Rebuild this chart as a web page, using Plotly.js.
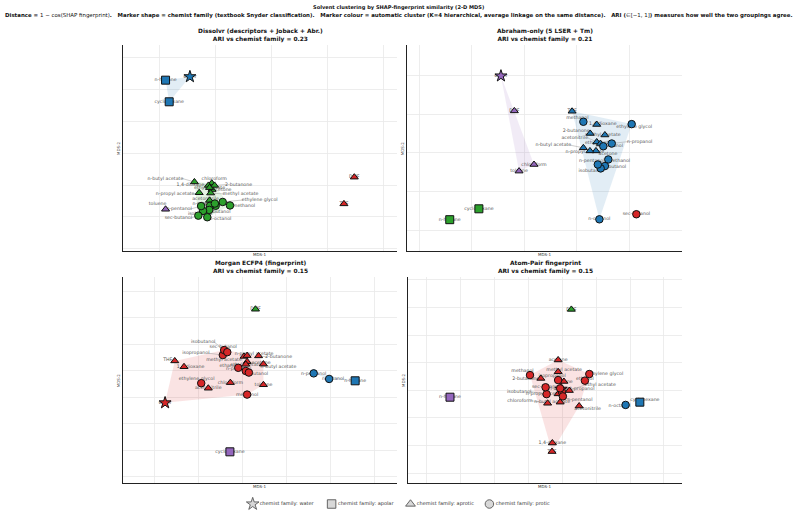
<!DOCTYPE html>
<html>
<head>
<meta charset="utf-8">
<script src="https://cdn.plot.ly/plotly-3.0.1.min.js"></script>
<style>html,body{margin:0;padding:0;background:#fff}</style>
</head>
<body>
<div id="chart" style="width:797px;height:514px"></div>
<script>
// Solvents and their textbook (Snyder) family
const solvents = ['water','n-hexane','cyclohexane','toluene','chloroform','1,4-dioxane','THF','DMF',
  'acetone','2-butanone','acetonitrile','methyl acetate','ethyl acetate','n-propyl acetate','n-butyl acetate',
  'methanol','ethanol','n-propanol','isopropanol','n-butanol','isobutanol','sec-butanol','n-pentanol','n-octanol','ethylene glycol'];
const family = ['water','apolar','apolar','aprotic','aprotic','aprotic','aprotic','aprotic',
  'aprotic','aprotic','aprotic','aprotic','aprotic','aprotic','aprotic',
  'protic','protic','protic','protic','protic','protic','protic','protic','protic','protic'];

// 2-D MDS coordinates and K=4 cluster labels, one set per fingerprint
const dissolvrX = [-0.292,-0.379,-0.366,-0.379,-0.214,-0.226,0.258,0.295,-0.213,-0.204,-0.222,-0.218,-0.222,-0.259,-0.276,-0.149,-0.200,-0.220,-0.203,-0.223,-0.245,-0.262,-0.252,-0.230,-0.175];
const dissolvrY = [0.241,0.230,0.162,-0.176,-0.094,-0.101,-0.159,-0.075,-0.114,-0.101,-0.148,-0.125,-0.108,-0.124,-0.090,-0.164,-0.165,-0.165,-0.158,-0.178,-0.181,-0.196,-0.166,-0.201,-0.153];
const dissolvrCluster = [1,1,1,4,2,2,3,3,2,2,2,2,2,2,2,2,2,2,2,2,2,2,2,2,2];

const abrahamX = [-0.089,-0.284,-0.173,-0.020,0.037,0.276,0.182,-0.038,0.273,0.251,0.276,0.307,0.290,0.250,0.225,0.225,0.320,0.333,0.301,0.307,0.291,0.427,0.280,0.286,0.409];
const abrahamY = [0.198,-0.172,-0.144,-0.047,-0.030,0.073,0.107,0.108,0.005,0.050,0.028,0.046,0.024,0.005,0.013,0.080,-0.017,0.024,0.017,-0.034,-0.040,-0.158,-0.030,-0.171,0.074];
const abrahamCluster = [4,2,2,4,4,1,1,4,1,1,1,1,1,1,1,1,1,1,1,1,1,3,1,1,1];

const morganX = [-0.176,0.255,-0.029,0.047,-0.028,-0.133,-0.154,0.029,0.010,0.036,-0.078,0.003,0.007,0.010,0.047,0.010,-0.010,0.007,-0.045,0.014,-0.042,-0.035,0.161,0.196,-0.094];
const morganY = [-0.120,-0.037,-0.305,-0.052,-0.044,0.016,0.038,0.233,0.035,0.057,-0.065,0.055,0.025,0.058,0.026,-0.089,0.012,0.000,0.060,-0.006,0.079,0.071,-0.009,-0.030,-0.046];
const morganCluster = [3,1,4,3,3,3,3,2,3,3,3,3,3,3,3,3,3,3,3,3,3,3,1,1,3];

const atomPairX = [0.097,-0.231,0.329,0.105,0.057,0.071,0.070,0.127,0.088,0.037,0.150,0.088,0.121,0.088,0.094,0.005,0.167,0.099,0.088,0.094,0.054,0.051,0.102,0.287,0.180];
const atomPairY = [-0.096,-0.125,-0.143,-0.068,-0.147,-0.291,-0.322,0.193,0.010,-0.057,-0.157,-0.033,-0.101,-0.113,-0.143,-0.045,-0.065,-0.105,-0.063,-0.093,-0.114,-0.089,-0.122,-0.153,-0.041];
const atomPairCluster = [3,4,1,3,3,3,3,2,3,3,3,3,3,3,3,3,3,3,3,3,3,3,3,1,3];

const panelNames = ['Dissolvr (descriptors + Joback + Abr.)','Abraham-only (5 LSER + Tm)','Morgan ECFP4 (fingerprint)','Atom-Pair fingerprint'];
const ariValues = [0.23, 0.21, 0.15, 0.15];
const familyNames = ['water','apolar','aprotic','protic'];

// ---- styling ----
const W = 797, H = 514;
const clusterColor = {1:'#1f77b4', 2:'#2ca02c', 3:'#d62728', 4:'#9467bd'};
const clusterFill  = {1:'rgba(31,119,180,0.13)', 2:'rgba(44,160,44,0.13)', 3:'rgba(214,39,40,0.13)', 4:'rgba(148,103,189,0.13)'};
const familySymbol = {water:'star', apolar:'square', aprotic:'triangle-up', protic:'circle'};
const familySize   = {water:9, apolar:8, aprotic:7, protic:7.5};
const FONT = 'DejaVu Sans';

// label nudges in pixels (dx right, dy down) for crowded neighbourhoods
const nudges = [
  {'toluene':[-8,-5],'n-butyl acetate':[-29,-3.5],'chloroform':[2.5,-4.5],'1,4-dioxane':[-18,-1],'2-butanone':[24,-1],
   'acetone':[10,0.5],'n-propyl acetate':[-24,1.5],'methyl acetate':[30,1],'acetonitrile':[-4,-2],'ethylene glycol':[37,-2],
   'methanol':[14,0],'n-propanol':[-5,-1.5],'n-pentanol':[-22,3],'n-butanol':[10,2],'isobutanol':[-3,3],'sec-butanol':[-20,2.6],
   'n-octanol':[13,2],'ethanol':[0,-2]},
  {'methanol':[-6,-3.5],'1,4-dioxane':[6,-1],'ethylene glycol':[2.5,2.7],'2-butanone':[-14,-2.6],'methyl acetate':[-2,0],
   'acetonitrile':[-22,-4],'ethyl acetate':[0,-1],'n-propanol':[28,-2],'isopropanol':[6,0],'n-butyl acetate':[-30,-2.7],
   'n-propyl acetate':[-5,1],'acetone':[12,3],'ethanol':[13,1],'n-pentanol':[-6,-3.6],'n-butanol':[10,0.5],'isobutanol':[-10,2]},
  {'THF':[-7,-1],'1,4-dioxane':[6.5,0],'ethylene glycol':[-4.6,-4.3],'isobutanol':[-21,-8],'sec-butanol':[-4,-5],
   'isopropanol':[-27,-2],'methyl acetate':[-20,3],'n-propyl acetate':[7,-2],'2-butanone':[20,1],'acetone':[14,1],
   'n-butyl acetate':[15,2.7],'ethanol':[-10,-1.7],'n-propanol':[-7,-2],'n-butanol':[8,1],'n-octanol':[4,0]},
  {'cyclohexane':[5,-2],'n-octanol':[-6,1],'methyl acetate':[6,-2.4],'methanol':[-7.5,-4],'2-butanone':[-15,0],
   'isopropanol':[-6,-4],'ethylene glycol':[16,0],'ethanol':[0,-2],'ethyl acetate':[31,-6],'n-propanol':[20,-2.4],
   'isobutanol':[-27.5,-2.6],'n-propyl acetate':[-13,0],'chloroform':[-27.7,-2.6],'n-butyl acetate':[-8,0],
   'n-pentanol':[17,3],'acetonitrile':[8.5,3]}
];

// panel frames (pixels) and axis windows
const panels = [
  {x:dissolvrX, y:dissolvrY, c:dissolvrCluster, px:[123,397], py:[45,251],  xr:[-0.531,0.4475], yr:[-0.3072,0.3406], dx:0.2, dy:0.1},
  {x:abrahamX,  y:abrahamY,  c:abrahamCluster,  px:[407.3,681.7], py:[45,251], xr:[-0.4457,0.5996], yr:[-0.2526,0.2776], dx:0.2, dy:0.1},
  {x:morganX,   y:morganY,   c:morganCluster,   px:[123.3,397], py:[276.7,483.3], xr:[-0.2707,0.3499], yr:[-0.4238,0.3558], dx:0.1, dy:0.1},
  {x:atomPairX, y:atomPairY, c:atomPairCluster, px:[408.3,681.7], py:[276.7,482.7], xr:[-0.354,0.4525], yr:[-0.4348,0.3116], dx:0.1, dy:0.1}
];

function convexHull(points) {
  const pts = points.slice().sort((a,b)=>a[0]-b[0]||a[1]-b[1]);
  const cross=(o,a,b)=>(a[0]-o[0])*(b[1]-o[1])-(a[1]-o[1])*(b[0]-o[0]);
  const lower=[], upper=[];
  for (const p of pts){ while(lower.length>=2&&cross(lower[lower.length-2],lower[lower.length-1],p)<=0) lower.pop(); lower.push(p); }
  for (let i=pts.length-1;i>=0;i--){ const p=pts[i]; while(upper.length>=2&&cross(upper[upper.length-2],upper[upper.length-1],p)<=0) upper.pop(); upper.push(p); }
  upper.pop(); lower.pop();
  return lower.concat(upper);
}

const traces = [];
const layout = {
  width:W, height:H, autosize:false,
  margin:{l:0,r:0,t:0,b:0},
  paper_bgcolor:'#fff', plot_bgcolor:'#fff',
  showlegend:false,
  annotations:[], shapes:[]
};

panels.forEach((p, k) => {
  const s = k===0 ? '' : String(k+1);
  const xa = 'x'+s, ya = 'y'+s;
  const wpx = p.px[1]-p.px[0], hpx = p.py[1]-p.py[0];
  const axisBase = {showgrid:true, gridcolor:'#e8e8e8', gridwidth:0.8, zeroline:false, showline:true,
    linecolor:'#222', linewidth:1, showticklabels:false, ticks:'', tick0:0, fixedrange:true};
  layout['xaxis'+s] = Object.assign({}, axisBase, {domain:[p.px[0]/W, p.px[1]/W], range:p.xr, dtick:p.dx, anchor:ya});
  layout['yaxis'+s] = Object.assign({}, axisBase, {domain:[1-p.py[1]/H, 1-p.py[0]/H], range:p.yr, dtick:p.dy, anchor:xa});

  // cluster hulls
  [1,2,3,4].forEach(cl => {
    const pts = [];
    p.c.forEach((v,i)=>{ if (v===cl) pts.push([p.x[i], p.y[i]]); });
    if (pts.length < 3) return;
    const h = convexHull(pts);
    traces.push({type:'scatter', mode:'lines', xaxis:xa, yaxis:ya, x:h.map(q=>q[0]).concat([h[0][0]]),
      y:h.map(q=>q[1]).concat([h[0][1]]), fill:'toself', fillcolor:clusterFill[cl], line:{width:0},
      hoverinfo:'skip'});
  });

  // labels (behind markers) with optional leader lines
  const sx = (p.xr[1]-p.xr[0])/wpx, sy = (p.yr[1]-p.yr[0])/hpx;
  const lx=[], ly=[], lt=[], leadX=[], leadY=[];
  solvents.forEach((name,i) => {
    const n = nudges[k][name] || [0,0];
    lx.push(p.x[i] + n[0]*sx); ly.push(p.y[i] - n[1]*sy); lt.push(name);
    const hw = name.length*1.1;
    if (Math.abs(n[0]) > hw + 3) {
      const ex = n[0] - Math.sign(n[0])*hw;
      leadX.push(p.x[i], p.x[i] + ex*sx, null);
      leadY.push(p.y[i], p.y[i] - n[1]*sy, null);
    }
  });
  traces.push({type:'scatter', mode:'lines', xaxis:xa, yaxis:ya, x:leadX, y:leadY,
    line:{color:'#9a9a9a', width:0.5}, hoverinfo:'skip'});
  traces.push({type:'scatter', mode:'text', xaxis:xa, yaxis:ya, x:lx, y:ly, text:lt, cliponaxis:false,
    textposition:'middle center', textfont:{family:FONT, size:4.7, color:'#555'}, hoverinfo:'skip'});

  // markers: shape = family, colour = cluster
  traces.push({type:'scatter', mode:'markers', xaxis:xa, yaxis:ya, x:p.x, y:p.y, text:solvents,
    marker:{symbol:family.map(f=>familySymbol[f]), size:family.map(f=>familySize[f]),
      color:p.c.map(c=>clusterColor[c]), line:{color:'#111', width:1}, opacity:1},
    hoverinfo:'text'});

  // panel titles and axis names
  const cx = (p.px[0]+p.px[1])/2/W;
  layout.annotations.push({xref:'paper', yref:'paper', x:cx, y:1-(p.py[0]-9.5)/H, showarrow:false,
    text:'<b>'+panelNames[k]+'</b><br><b>ARI vs chemist family = '+ariValues[k].toFixed(2)+'</b>',
    font:{family:FONT, size:5.9, color:'#111'}, xanchor:'center', yanchor:'middle'});
  layout.annotations.push({xref:'paper', yref:'paper', x:cx, y:1-(p.py[1]+3.6)/H, showarrow:false,
    text:'MDS-1', font:{family:FONT, size:4, color:'#333'}, xanchor:'center', yanchor:'middle'});
  layout.annotations.push({xref:'paper', yref:'paper', x:(p.px[0]-5)/W, y:1-(p.py[0]+p.py[1])/2/H, showarrow:false,
    text:'MDS-2', textangle:-90, font:{family:FONT, size:4, color:'#333'}, xanchor:'center', yanchor:'middle'});
});

// key strip for chemist family (grey symbols) on its own hidden axis pair
const keyLeft = 213.25, keyStep = 78.9;
layout.xaxis5 = {domain:[keyLeft/W, (keyLeft+4*keyStep)/W], range:[-0.5,3.5], visible:false, fixedrange:true, anchor:'y5'};
layout.yaxis5 = {domain:[1-510/H, 1-498/H], range:[-1,1], visible:false, fixedrange:true, anchor:'x5'};
traces.push({type:'scatter', mode:'markers+text', xaxis:'x5', yaxis:'y5', cliponaxis:false,
  x:familyNames.map((f,i)=>i), y:familyNames.map(()=>0),
  text:familyNames.map(f=>'chemist family: '+f), textposition:'middle right',
  textfont:{family:FONT, size:5, color:'#333'},
  marker:{symbol:familyNames.map(f=>familySymbol[f]), size:familyNames.map(f=>f==='water'?9.5:8.5),
    color:'#c8c8c8', line:{color:'#111', width:0.9}}, hoverinfo:'skip'});

layout.annotations.push({xref:'paper', yref:'paper', x:0.5, y:1-7.6/H, showarrow:false,
  text:'<b>Solvent clustering by SHAP-fingerprint similarity (2-D MDS)</b>',
  font:{family:FONT, size:5.1, color:'#111'}, xanchor:'center', yanchor:'middle'});
layout.annotations.push({xref:'paper', yref:'paper', x:0.5, y:1-15/H, showarrow:false,
  text:'<b>Distance = </b>1 − cos(SHAP fingerprint)<b>.   Marker shape = chemist family (textbook Snyder classification).   Marker colour = automatic cluster (K=4 hierarchical, average linkage on the same distance).   ARI (</b>∈[−1, 1]<b>) measures how well the two groupings agree.</b>',
  font:{family:FONT, size:5.45, color:'#111'}, xanchor:'center', yanchor:'middle'});

Plotly.newPlot('chart', traces, layout, {staticPlot:true, displayModeBar:false});
</script>
</body>
</html>
